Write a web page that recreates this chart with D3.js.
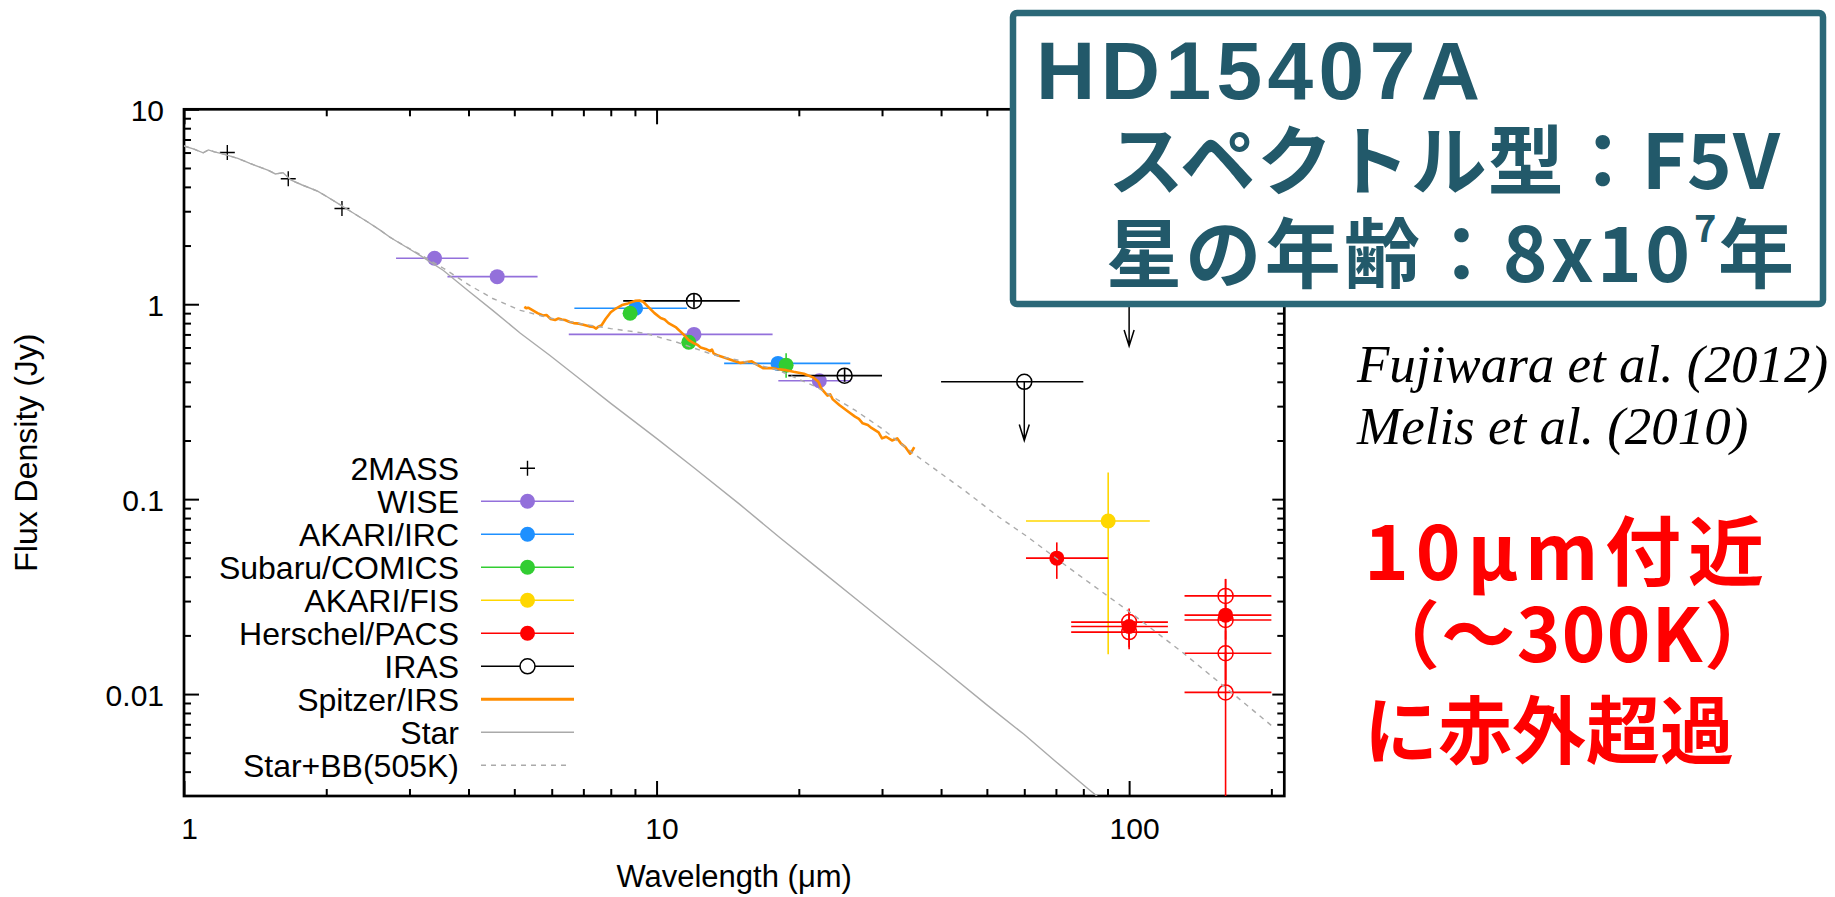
<!DOCTYPE html>
<html>
<head>
<meta charset="utf-8">
<script src="https://cdn.jsdelivr.net/npm/d3@7"></script>
<style>
    body { margin: 0; background: #fff; }
</style>
</head>
<body>
<div class="mainBody"></div>
<script>
var frame = { left: 184, right: 1284.3, top: 109.3, bottom: 796 };

var xDomain = [1, 213];
var yDomain = [0.003, 10];
var xTickLabels = [1, 10, 100];
var yTickLabels = [10, 1, 0.1, 0.01];

// w = wavelength (um), f = flux (Jy), w0/w1 = band width, f0/f1 = error bar
var twoMass = [
    { w: 1.235, f: 6.0 },
    { w: 1.662, f: 4.4 },
    { w: 2.159, f: 3.1 }
];
var wise = [
    { w: 3.39, f: 1.72, w0: 2.81, w1: 4.00 },
    { w: 4.60, f: 1.385, w0: 3.61, w1: 5.60 },
    { w: 12.0, f: 0.70, w0: 6.52, w1: 17.6 },
    { w: 22.1, f: 0.405, w0: 18.1, w1: 25.8 }
];
var akariIrc = [
    { w: 9.03, f: 0.953, w0: 6.70, w1: 11.6 },
    { w: 18.07, f: 0.497, w0: 13.9, w1: 25.7 }
];
var subaru = [
    { w: 8.79, f: 0.899, w0: 8.5, w1: 9.1, f0: 0.87, f1: 0.93 },
    { w: 11.7, f: 0.638, w0: 11.4, w1: 12.0, f0: 0.62, f1: 0.66 },
    { w: 18.8, f: 0.487, w0: 18.3, w1: 19.3, f0: 0.42, f1: 0.56 }
];
var akariFis = [
    { w: 90.3, f: 0.0773, w0: 60.5, w1: 110.6, f0: 0.016, f1: 0.137 }
];
var pacs = [
    { w: 70.3, f: 0.0498, w0: 60.5, w1: 90.3, f0: 0.039, f1: 0.060 },
    { w: 100, f: 0.0222, w0: 75.4, w1: 120.8, f0: 0.0174, f1: 0.0268 },
    { w: 160, f: 0.0254, w0: 131, w1: 200, f0: 0.0118, f1: 0.0389 }
];
var pacsOpen = [
    { w: 100, f: 0.0234, w0: 75.4, w1: 120.8, f0: 0.0195, f1: 0.0275 },
    { w: 100, f: 0.0208, w0: 75.4, w1: 120.8, f0: 0.0170, f1: 0.0250 },
    { w: 160, f: 0.0319, w0: 131, w1: 200, f0: 0.025, f1: 0.039 },
    { w: 160, f: 0.0240, w0: 131, w1: 200, f0: 0.019, f1: 0.029 },
    { w: 160, f: 0.0162, w0: 131, w1: 200, f0: 0.0112, f1: 0.0212 },
    { w: 160, f: 0.0102, w0: 131, w1: 200, f0: 0.002, f1: 0.0165 }
];
// tip = end of the upper-limit arrow
var iras = [
    { w: 12, f: 1.04, w0: 8.5, w1: 15.0, f0: 0.96, f1: 1.13 },
    { w: 25, f: 0.43, w0: 19, w1: 30, f0: 0.40, f1: 0.465 },
    { w: 60, f: 0.40, w0: 40, w1: 80, tip: 0.20 },
    { w: 100, f: 1.21, w0: 80, w1: 120, tip: 0.61 }
];
var spitzer = [
    [5.25, 0.97], [5.3, 0.955], [5.35, 0.96], [5.45, 0.935], [5.6, 0.90],
    [5.75, 0.875], [5.85, 0.88], [5.97, 0.84], [6.1, 0.83], [6.2, 0.845],
    [6.3, 0.835], [6.4, 0.83], [6.55, 0.81], [6.68, 0.80], [6.85, 0.795],
    [7.0, 0.785], [7.2, 0.77], [7.35, 0.765], [7.45, 0.75], [7.55, 0.77],
    [7.65, 0.78], [7.8, 0.84], [8.0, 0.91], [8.2, 0.95], [8.45, 0.99],
    [8.7, 1.01], [9.0, 1.04], [9.2, 1.045], [9.37, 1.03], [9.6, 0.97],
    [9.9, 0.90], [10.2, 0.85], [10.4, 0.835], [10.6, 0.80], [11.0, 0.76],
    [11.4, 0.70], [11.7, 0.655], [12.0, 0.63], [12.2, 0.62], [12.4, 0.60],
    [12.7, 0.59], [12.99, 0.575], [13.1, 0.585], [13.2, 0.56], [13.5, 0.545],
    [14.0, 0.53], [14.5, 0.515], [15.05, 0.50], [15.5, 0.505], [15.9, 0.51],
    [16.3, 0.49], [16.8, 0.47], [17.5, 0.47], [18.0, 0.465], [18.8, 0.459],
    [19.5, 0.45], [20.5, 0.44], [21.5, 0.42], [22.0, 0.40], [22.3, 0.37],
    [23.0, 0.34], [23.3, 0.345], [23.6, 0.325], [24.4, 0.303], [25.5, 0.28],
    [26.3, 0.265], [26.8, 0.258], [27.3, 0.245], [28.0, 0.24], [28.5, 0.232],
    [29.5, 0.22], [30.0, 0.205], [30.6, 0.209], [31.5, 0.20], [32.3, 0.205],
    [32.9, 0.193], [33.6, 0.185], [34.4, 0.171], [34.8, 0.178], [35.1, 0.185]
];
var starModel = [
    [1.0, 6.48], [1.05, 6.25], [1.098, 5.98], [1.126, 6.19], [1.16, 6.05],
    [1.207, 5.91], [1.3, 5.6], [1.379, 5.28], [1.504, 4.88], [1.561, 4.66],
    [1.621, 4.73], [1.682, 4.34], [1.779, 4.09], [1.917, 3.80], [2.0, 3.58],
    [2.104, 3.32], [2.25, 3.0], [2.443, 2.65], [2.6, 2.40], [2.733, 2.2],
    [3.0, 1.92], [3.17, 1.77], [3.54, 1.49], [4.0, 1.17], [4.5, 0.93],
    [5.15, 0.71], [5.94, 0.547], [7.0, 0.40], [8.0, 0.31], [10, 0.205],
    [12, 0.145], [15, 0.094], [18.3, 0.063], [22, 0.044], [27, 0.0295],
    [33, 0.0199], [40, 0.0137], [50, 0.0088], [60, 0.0062], [70, 0.0045],
    [81.5, 0.0033], [90, 0.0027]
];
var starPlusBB = [
    [1.0, 6.48], [1.05, 6.25], [1.098, 5.98], [1.126, 6.19], [1.16, 6.05],
    [1.207, 5.91], [1.3, 5.6], [1.379, 5.28], [1.504, 4.88], [1.561, 4.66],
    [1.621, 4.73], [1.682, 4.34], [1.779, 4.09], [1.917, 3.80], [2.0, 3.58],
    [2.104, 3.32], [2.25, 3.0], [2.443, 2.65], [2.6, 2.40], [2.733, 2.2],
    [3.0, 1.93], [3.17, 1.79], [3.54, 1.53], [4.0, 1.26], [4.5, 1.07],
    [5.15, 0.93], [5.94, 0.85], [7.0, 0.79], [8.0, 0.75], [9.45, 0.71],
    [11.0, 0.64], [13.2, 0.55], [15.5, 0.505], [18.1, 0.459], [21.8, 0.376],
    [26.3, 0.286], [30, 0.23], [34.9, 0.172], [45, 0.11], [53, 0.081],
    [61, 0.064], [75, 0.044], [100, 0.0265], [130, 0.0163], [160, 0.0108],
    [200, 0.0069]
];

var legendLabels = ["2MASS", "WISE", "AKARI/IRC", "Subaru/COMICS", "AKARI/FIS",
    "Herschel/PACS", "IRAS", "Spitzer/IRS", "Star", "Star+BB(505K)"];
var boxLines = ["HD15407A", "スペクトル型：F5V", "星の年齢：8x10", "7", "年"];
var refLines = ["Fujiwara et al. (2012)", "Melis et al. (2010)"];
var redLines = ["10μm付近", "（～300K）", "に赤外超過"];

var colors = {
    wise: "#9370db", irc: "#1e90ff", subaru: "#32cd32", fis: "#ffd700",
    pacs: "#ff0000", iras: "#000000", spitzer: "#ff8c00", star: "#aaaaaa"
};
var sansFont = "'Liberation Sans', Arial, Helvetica, sans-serif";
var cjkFont = "'Noto Sans CJK JP', sans-serif";
var serifFont = "'Liberation Serif', 'Times New Roman', serif";

var svg = d3.select("div.mainBody").append("svg")
    .attr("width", 1835)
    .attr("height", 897)
    .attr("font-family", sansFont);
var x = d3.scaleLog().domain(xDomain).range([frame.left, frame.right]);
var y = d3.scaleLog().domain(yDomain).range([frame.bottom, frame.top]);

function minorTicks(domain) {
    let ticks = [];
    for (let d = Math.pow(10, Math.floor(Math.log10(domain[0]))); d < domain[1]; d *= 10) {
        for (let m = 2; m <= 9; m++) {
            let v = +(d * m).toPrecision(3);
            if (v > domain[0] && v < domain[1]) ticks.push(v);
        }
    }
    return ticks;
}

function styleAxis(g, width) {
    g.select(".domain").remove();
    g.selectAll("line").attr("stroke", "#000").attr("stroke-width", width);
    g.attr("font-size", 30).attr("font-family", sansFont);
    g.selectAll("text").attr("fill", "#000");
}

function generateFrame() {
    let axes = svg.append("g").attr("class", "axes");
    let xMinor = minorTicks(xDomain);
    let yMinor = minorTicks(yDomain);

    axes.append("g").attr("transform", `translate(0,${frame.bottom})`)
        .call(d3.axisBottom(x).tickValues(xTickLabels).tickSize(-15).tickPadding(22)
            .tickFormat(function(d) { return String(d); }))
        .call(function(g) { styleAxis(g, 2); })
        .selectAll("text").attr("dx", 5);
    axes.append("g").attr("transform", `translate(0,${frame.bottom})`)
        .call(d3.axisBottom(x).tickValues(xMinor).tickSize(-7).tickFormat(""))
        .call(function(g) { styleAxis(g, 2); });
    axes.append("g").attr("transform", `translate(0,${frame.top})`)
        .call(d3.axisTop(x).tickValues(xTickLabels).tickSize(-15).tickFormat(""))
        .call(function(g) { styleAxis(g, 2); });
    axes.append("g").attr("transform", `translate(0,${frame.top})`)
        .call(d3.axisTop(x).tickValues(xMinor).tickSize(-7).tickFormat(""))
        .call(function(g) { styleAxis(g, 2); });

    axes.append("g").attr("transform", `translate(${frame.left},0)`)
        .call(d3.axisLeft(y).tickValues(yTickLabels).tickSize(-15).tickPadding(20)
            .tickFormat(function(d) { return String(d); }))
        .call(function(g) { styleAxis(g, 2); })
        .selectAll("text").attr("dy", "0.38em");
    axes.append("g").attr("transform", `translate(${frame.left},0)`)
        .call(d3.axisLeft(y).tickValues(yMinor).tickSize(-7).tickFormat(""))
        .call(function(g) { styleAxis(g, 2); });
    axes.append("g").attr("transform", `translate(${frame.right},0)`)
        .call(d3.axisRight(y).tickValues(yTickLabels).tickSize(-12).tickFormat(""))
        .call(function(g) { styleAxis(g, 2); });
    axes.append("g").attr("transform", `translate(${frame.right},0)`)
        .call(d3.axisRight(y).tickValues(yMinor).tickSize(-7).tickFormat(""))
        .call(function(g) { styleAxis(g, 2); });

    axes.append("rect")
        .attr("x", frame.left).attr("y", frame.top)
        .attr("width", frame.right - frame.left)
        .attr("height", frame.bottom - frame.top)
        .attr("fill", "none").attr("stroke", "#000").attr("stroke-width", 2.7);

    svg.append("text")
        .attr("x", (frame.left + frame.right) / 2).attr("y", 887)
        .attr("text-anchor", "middle").attr("font-size", 31)
        .text("Wavelength (μm)");
    svg.append("text")
        .attr("transform", `translate(37,${(frame.top + frame.bottom) / 2}) rotate(-90)`)
        .attr("text-anchor", "middle").attr("font-size", 32)
        .text("Flux Density (Jy)");

    svg.append("clipPath").attr("id", "plot-clip")
        .append("rect")
        .attr("x", frame.left).attr("y", frame.top)
        .attr("width", frame.right - frame.left)
        .attr("height", frame.bottom - frame.top);
}

function drawErrorPoints(layer, points, color, filled) {
    let g = layer.append("g");
    let withBand = points.filter(function(d) { return d.w0 !== undefined; });
    g.selectAll("line.xerr").data(withBand).enter().append("line")
        .attr("x1", function(d) { return x(d.w0); })
        .attr("x2", function(d) { return x(d.w1); })
        .attr("y1", function(d) { return y(d.f); })
        .attr("y2", function(d) { return y(d.f); })
        .attr("stroke", color).attr("stroke-width", 1.6);
    let withErr = points.filter(function(d) { return d.f0 !== undefined; });
    g.selectAll("line.yerr").data(withErr).enter().append("line")
        .attr("x1", function(d) { return x(d.w); })
        .attr("x2", function(d) { return x(d.w); })
        .attr("y1", function(d) { return y(d.f0); })
        .attr("y2", function(d) { return y(d.f1); })
        .attr("stroke", color).attr("stroke-width", 1.6);
    g.selectAll("circle").data(points).enter().append("circle")
        .attr("cx", function(d) { return x(d.w); })
        .attr("cy", function(d) { return y(d.f); })
        .attr("r", 7.5)
        .attr("fill", filled ? color : "none")
        .attr("stroke", color)
        .attr("stroke-width", filled ? 0 : 1.5);
}

function generateData() {
    let layer = svg.append("g").attr("clip-path", "url(#plot-clip)");

    layer.selectAll("path.plus").data(twoMass).enter().append("path")
        .attr("d", function(d) {
            let px = x(d.w), py = y(d.f);
            return `M${px - 7.5},${py}H${px + 7.5}M${px},${py - 7.5}V${py + 7.5}`;
        })
        .attr("stroke", "#000").attr("stroke-width", 1.4);

    drawErrorPoints(layer, wise, colors.wise, true);
    drawErrorPoints(layer, akariIrc, colors.irc, true);
    drawErrorPoints(layer, subaru, colors.subaru, true);
    drawErrorPoints(layer, akariFis, colors.fis, true);
    drawErrorPoints(layer, pacsOpen, colors.pacs, false);
    drawErrorPoints(layer, pacs, colors.pacs, true);
    drawErrorPoints(layer, iras, colors.iras, false);

    // upper limits
    let limits = iras.filter(function(d) { return d.tip !== undefined; });
    layer.selectAll("path.limit").data(limits).enter().append("path")
        .attr("d", function(d) {
            let px = x(d.w), y0 = y(d.f), y1 = y(d.tip);
            return `M${px},${y0}V${y1}M${px - 5},${y1 - 16}L${px},${y1}L${px + 5},${y1 - 16}`;
        })
        .attr("fill", "none").attr("stroke", "#000").attr("stroke-width", 1.5);

    let line = d3.line()
        .x(function(d) { return x(d[0]); })
        .y(function(d) { return y(d[1]); });

    layer.append("path").datum(spitzer)
        .attr("d", line)
        .attr("fill", "none").attr("stroke", colors.spitzer)
        .attr("stroke-width", 2.6).attr("stroke-linejoin", "round");
    layer.append("path").datum(starModel)
        .attr("d", line)
        .attr("fill", "none").attr("stroke", colors.star).attr("stroke-width", 1.4);
    layer.append("path").datum(starPlusBB)
        .attr("d", line)
        .attr("fill", "none").attr("stroke", colors.star).attr("stroke-width", 1.4)
        .attr("stroke-dasharray", "5,5");
}

function generateLegend() {
    let styles = [
        { kind: "plus", color: "#000" },
        { kind: "dot", color: colors.wise },
        { kind: "dot", color: colors.irc },
        { kind: "dot", color: colors.subaru },
        { kind: "dot", color: colors.fis },
        { kind: "dot", color: colors.pacs },
        { kind: "ring", color: colors.iras },
        { kind: "thick", color: colors.spitzer },
        { kind: "line", color: colors.star },
        { kind: "dash", color: colors.star }
    ];
    let legend = svg.append("g").attr("class", "legend");
    let rows = legend.selectAll("g").data(legendLabels).enter().append("g")
        .attr("transform", function(d, i) { return `translate(0,${468.3 + i * 33})`; });
    rows.append("text")
        .attr("x", 459).attr("dy", "0.36em")
        .attr("text-anchor", "end").attr("font-size", 32)
        .text(function(d) { return d; });
    rows.each(function(d, i) {
        let s = styles[i];
        let row = d3.select(this);
        if (s.kind === "plus") {
            row.append("path").attr("d", "M520,0H535M527.5,-7.5V7.5")
                .attr("stroke", "#000").attr("stroke-width", 1.4);
            return;
        }
        let seg = row.append("line").attr("x1", 481).attr("x2", 574)
            .attr("stroke", s.color).attr("stroke-width", 1.6);
        if (s.kind === "thick") seg.attr("stroke-width", 3);
        if (s.kind === "dash") seg.attr("stroke-dasharray", "5,5").attr("x2", 570);
        if (s.kind === "dot" || s.kind === "ring") {
            row.append("circle").attr("cx", 527.5).attr("r", 7.5)
                .attr("fill", s.kind === "dot" ? s.color : "#fff")
                .attr("stroke", s.color).attr("stroke-width", s.kind === "dot" ? 0 : 1.5);
        }
    });
}

function generateNotes() {
    let teal = "#22596a";
    let box = svg.append("g").attr("class", "star-box")
        .attr("font-family", cjkFont).attr("font-weight", "bold").attr("fill", teal);
    box.append("rect")
        .attr("x", 1013).attr("y", 13).attr("width", 810).attr("height", 291)
        .attr("rx", 4).attr("fill", "#fff")
        .attr("stroke", "#2b6878").attr("stroke-width", 6.5);
    box.append("text")
        .attr("x", 1036).attr("y", 99)
        .attr("font-family", sansFont)
        .attr("font-size", 82)
        .attr("textLength", 444).attr("lengthAdjust", "spacing")
        .text(boxLines[0]);
    box.append("text")
        .attr("x", 1108).attr("y", 189)
        .attr("font-size", 76)
        .attr("textLength", 672).attr("lengthAdjust", "spacing")
        .text(boxLines[1]);
    box.append("text")
        .attr("x", 1106).attr("y", 282)
        .attr("font-size", 76)
        .attr("textLength", 584).attr("lengthAdjust", "spacing")
        .text(boxLines[2]);
    box.append("text")
        .attr("x", 1694).attr("y", 242)
        .attr("font-size", 38)
        .text(boxLines[3]);
    box.append("text")
        .attr("x", 1718).attr("y", 282)
        .attr("font-size", 76)
        .text(boxLines[4]);

    svg.selectAll("text.ref").data(refLines).enter().append("text")
        .attr("class", "ref")
        .attr("x", 1357)
        .attr("y", function(d, i) { return 382 + i * 62; })
        .attr("font-family", serifFont)
        .attr("font-style", "italic").attr("font-size", 53)
        .text(function(d) { return d; });

    let red = svg.append("g").attr("class", "excess")
        .attr("font-family", cjkFont).attr("font-weight", "bold").attr("fill", "#ff0000");
    red.append("text").attr("x", 1364).attr("y", 580).attr("font-size", 76)
        .attr("textLength", 400).attr("lengthAdjust", "spacing")
        .text(redLines[0]);
    red.append("text").attr("x", 1366).attr("y", 662).attr("font-size", 74)
        .attr("textLength", 412).attr("lengthAdjust", "spacing")
        .text(redLines[1]);
    red.append("text").attr("x", 1364).attr("y", 758).attr("font-size", 74)
        .text(redLines[2]);
}

function initialLoad() {
    generateFrame();
    generateData();
    generateLegend();
    generateNotes();
}

initialLoad();
</script>
</body>
</html>
